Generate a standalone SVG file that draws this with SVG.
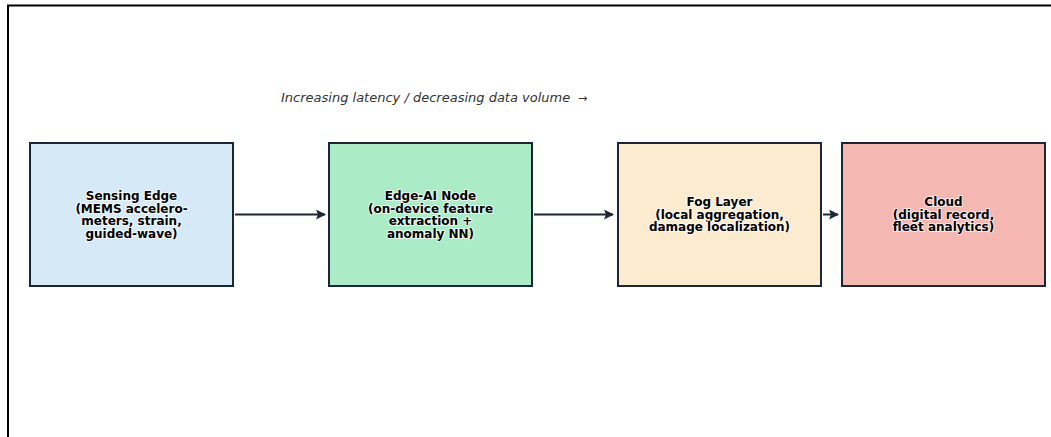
<svg xmlns="http://www.w3.org/2000/svg" width="1051" height="437" viewBox="0 0 1051 437">
<defs>
<style>
.box{stroke:#1b2636;stroke-width:2}
.lbl{font-family:"DejaVu Sans",sans-serif;font-weight:bold;font-size:12px;fill:#000;text-anchor:middle;stroke:#ffffff;stroke-width:2.2;stroke-opacity:0.7;paint-order:stroke;stroke-linejoin:round}
.conn{stroke:#1b2636;stroke-width:2;fill:none;marker-end:url(#ah)}
</style>
<marker id="ah" viewBox="0 0 10 10" refX="9" refY="5" markerWidth="5" markerHeight="5" orient="auto" markerUnits="strokeWidth">
<path d="M0,0 L10,5 L0,10 L2,5 Z" fill="#1b2636"/>
</marker>
</defs>
<rect width="1051" height="437" fill="#fff"/>
<path d="M8,437 V5.5 H1051" fill="none" stroke="#000" stroke-width="2"/>
<text y="102" font-family="DejaVu Sans,sans-serif" font-style="italic" font-size="13" fill="#333"><tspan x="281">Increasing latency / decreasing data volume</tspan><tspan x="578" font-size="11">→</tspan></text>
<g id="connectors">
<line class="conn" x1="235" y1="214.5" x2="325" y2="214.5"/>
<line class="conn" x1="534" y1="214.5" x2="613" y2="214.5"/>
<line class="conn" x1="823" y1="214.5" x2="838" y2="214.5"/>
</g>
<g id="sensing-edge">
<rect class="box" x="30" y="143" width="203" height="143" fill="#d6e9f7"/>
<text class="lbl"><tspan x="131.5" y="200">Sensing Edge</tspan><tspan x="131.5" y="212.5">(MEMS accelero-</tspan><tspan x="131.5" y="225">meters, strain,</tspan><tspan x="131.5" y="237.5">guided-wave)</tspan></text>
</g>
<g id="edge-ai-node">
<rect class="box" x="329" y="143" width="203" height="143" fill="#abebc6"/>
<text class="lbl"><tspan x="430.5" y="200">Edge-AI Node</tspan><tspan x="430.5" y="212.5">(on-device feature</tspan><tspan x="430.5" y="225">extraction +</tspan><tspan x="430.5" y="237.5">anomaly NN)</tspan></text>
</g>
<g id="fog-layer">
<rect class="box" x="618" y="143" width="203" height="143" fill="#fdebd0"/>
<text class="lbl"><tspan x="719.5" y="206">Fog Layer</tspan><tspan x="719.5" y="218.5">(local aggregation,</tspan><tspan x="719.5" y="231">damage localization)</tspan></text>
</g>
<g id="cloud">
<rect class="box" x="842" y="143" width="203" height="143" fill="#f5b7b1"/>
<text class="lbl"><tspan x="943.5" y="206">Cloud</tspan><tspan x="943.5" y="218.5">(digital record,</tspan><tspan x="943.5" y="231">fleet analytics)</tspan></text>
</g>
</svg>
